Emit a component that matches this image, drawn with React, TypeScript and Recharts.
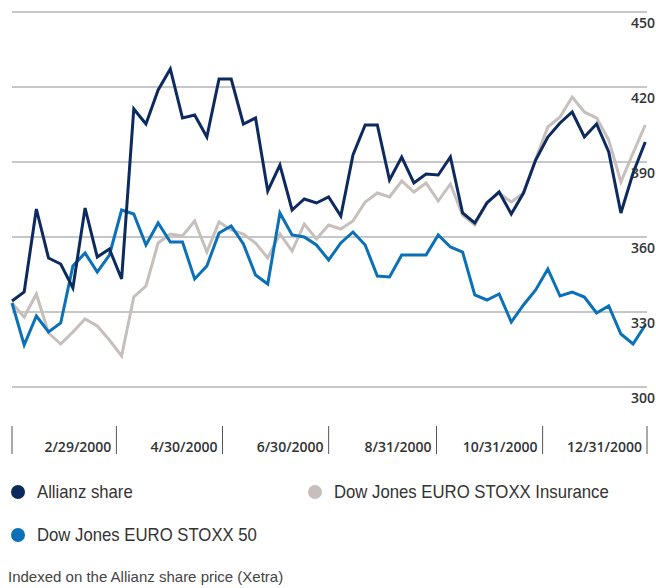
import { CartesianGrid, Line, LineChart, XAxis, YAxis } from "recharts";

// Weekly observations, x = day of year 2000 (Jan 1 = 0)
const days = [
  0, 7, 14, 21, 28, 35, 42, 49, 56, 63, 70, 77, 84, 91, 98, 105, 112, 119, 126, 133, 140, 147, 154, 161, 168, 175,
  182, 189, 196, 203, 210, 217, 224, 231, 238, 245, 252, 259, 266, 273, 280, 287, 294, 301, 308, 315, 322, 329, 336,
  343, 350, 357, 364,
];

const allianz = [
  334.4, 338, 371.2, 351.6, 349.2, 339.6, 371.6, 352, 355.2, 343.2, 411.2, 405.2, 418.8, 427.2, 407.6, 408.8, 400,
  423.2, 423.2, 405.2, 407.6, 378.4, 388.8, 370.8, 375.2, 373.6, 376, 368.4, 392.8, 404.8, 404.8, 382.8, 392, 381.6,
  385.2, 384.8, 392, 369.6, 365.6, 373.6, 378, 369.2, 377.6, 390.8, 400, 405.6, 410, 400, 405.2, 394, 369.6, 385.6, 398,
];

const insurance = [
  333.6, 328, 337.2, 321.6, 317.2, 322, 327.2, 324.4, 318.8, 312.4, 336, 340.4, 357.6, 361.2, 360.4, 366.4, 354, 366,
  362.8, 361.2, 357.6, 351.6, 361.2, 354.4, 365.2, 359.2, 364.8, 363.2, 366.4, 374, 377.6, 376, 382.4, 378, 381.6,
  374.4, 381.2, 368.8, 364.8, 374, 377.6, 374, 377.6, 391.2, 404, 408, 416, 410, 407.6, 398.8, 382, 393.6, 404.8,
];

const stoxx50 = [
  333.6, 316.8, 328.4, 322, 325.6, 348.4, 353.6, 346, 352.8, 370.8, 369.2, 356.8, 365.6, 358, 358, 343.2, 348.4, 361.6,
  364.4, 357.2, 344.8, 341.2, 369.6, 360.8, 360, 356.8, 350.8, 357.6, 362, 356.8, 344.4, 344, 352.8, 352.8, 352.8,
  360.8, 356, 354, 336.8, 334.8, 337.2, 326, 332.8, 338.8, 347.2, 336.4, 338, 336, 329.6, 332.4, 321.2, 317.2, 324.8,
];

const yTicks = [300, 330, 360, 390, 420, 450];
// period boundaries (day of year) and the label of the period ending there
const xTicks = [0, 60, 121, 182, 244, 305, 365];
const xTickLabels = ["", "2/29/2000", "4/30/2000", "6/30/2000", "8/31/2000", "10/31/2000", "12/31/2000"];

const series = [
  { key: "insurance", name: "Dow Jones EURO STOXX Insurance", color: "#c6bfbb" },
  { key: "stoxx50", name: "Dow Jones EURO STOXX 50", color: "#0a70b7" },
  { key: "allianz", name: "Allianz share", color: "#0c2a5e" },
];

const TEXT_FONT = "'Liberation Sans', Arial, sans-serif";
const TICK_FONT = "'Open Sans', sans-serif";

const rows = days.map((day, i) => ({
  day,
  allianz: allianz[i],
  insurance: insurance[i],
  stoxx50: stoxx50[i],
}));

function YTick({ y, payload }: any) {
  return (
    <text x={655} y={y + 16} textAnchor="end" fontSize={14} fontWeight={600} fill="#333" fontFamily={TICK_FONT}>
      {payload.value}
    </text>
  );
}

function XTick({ x, y, payload }: any) {
  const idx = xTicks.indexOf(payload.value);
  return (
    <g>
      <line x1={x} x2={x} y1={y + 31} y2={y + 59} stroke="#555" strokeWidth={1} />
      <text x={x - 5} y={y + 57} textAnchor="end" fontSize={14} fontWeight={600} fill="#333" fontFamily={TICK_FONT}>
        {xTickLabels[idx]}
      </text>
    </g>
  );
}

// the source type is a condensed face; squeeze a regular one to match
function Narrow({ children, scale }: { children: string; scale: number }) {
  return (
    <span style={{ display: "inline-block", transform: `scaleX(${scale})`, transformOrigin: "left center", whiteSpace: "nowrap" }}>
      {children}
    </span>
  );
}

function LegendItem({ color, label, left, top }: { color: string; label: string; left: number; top: number }) {
  return (
    <div style={{ position: "absolute", left, top, display: "flex", alignItems: "center", gap: 12, height: 24 }}>
      <span style={{ width: 14, height: 14, borderRadius: "50%", background: color, display: "inline-block", flexShrink: 0 }} />
      <Narrow scale={0.88}>{label}</Narrow>
    </div>
  );
}

export default function App() {
  return (
    <div style={{ position: "absolute", left: 0, top: 0, width: 656, height: 588, background: "#fff", fontFamily: TEXT_FONT }}>
      <LineChart width={656} height={460} data={rows} margin={{ top: 12, right: 0, left: 12, bottom: 0 }}>
        <CartesianGrid horizontal vertical={false} stroke="#8f8f8f" strokeWidth={1.2} />
        <XAxis
          dataKey="day"
          type="number"
          domain={[0, 365]}
          ticks={xTicks}
          tick={<XTick />}
          axisLine={false}
          tickLine={false}
          height={73}
          interval={0}
        />
        <YAxis
          orientation="right"
          domain={[300, 450]}
          ticks={yTicks}
          tick={<YTick />}
          axisLine={false}
          tickLine={false}
          width={9}
          interval={0}
        />
        {series.map((s) => (
          <Line
            key={s.key}
            dataKey={s.key}
            name={s.name}
            type="linear"
            stroke={s.color}
            strokeWidth={3}
            dot={false}
            isAnimationActive={false}
          />
        ))}
      </LineChart>
      <div style={{ fontSize: 19, color: "#333" }}>
        <LegendItem color={series[2].color} label={series[2].name} left={11} top={480} />
        <LegendItem color={series[0].color} label={series[0].name} left={308} top={480} />
        <LegendItem color={series[1].color} label={series[1].name} left={11} top={523} />
      </div>
      <div style={{ position: "absolute", left: 8, top: 567, fontSize: 15, color: "#444", lineHeight: "20px", whiteSpace: "nowrap" }}>
        Indexed on the Allianz share price (Xetra)
      </div>
    </div>
  );
}
